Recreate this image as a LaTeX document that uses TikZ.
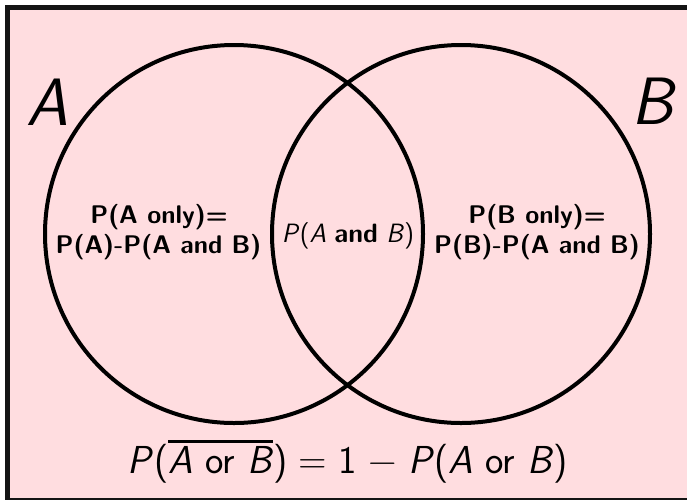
\documentclass[tikz,border=0pt]{standalone}
\usepackage{fontspec}
\definecolor{bgpink}{RGB}{255,221,224}
\definecolor{framegray}{RGB}{20,20,20}
\newcommand\myovl[1]{\vbox{\hrule height 2.6pt\kern 3pt\hbox{#1}}}
\newcommand\opsp{\hspace{0.29em}}
\begin{document}
\begin{tikzpicture}[x=1pt,y=-1pt,
  venn/.style={circle, draw=black, line width=4pt, minimum size=378pt, inner sep=0pt},
  biglbl/.style={font=\sffamily\itshape\fontsize{67}{70}\selectfont, inner sep=0pt, anchor=base},
  boldlbl/.style={font=\sffamily\bfseries\fontsize{25.5}{30}\selectfont, inner sep=0pt, anchor=base},
  midlbl/.style={font=\sffamily\fontsize{26.5}{30}\selectfont, inner sep=0pt, anchor=base},
  formula/.style={font=\sffamily\fontsize{39}{44}\selectfont, inner sep=0pt, anchor=base}]
\useasboundingbox (0,0) rectangle (687,499);
\clip (0,0) rectangle (687,499);
\draw[line width=4.5pt, draw=framegray, fill=bgpink] (7.5,7.5) rectangle (689.5,500.5);
\node[venn] (cA) at (234,234) {};
\node[venn] (cB) at (461,234) {};
\node[biglbl] (labA) at (47,125) {A};
\node[biglbl] (labB) at (652,124) {B};
\node[boldlbl] (aonly1) at (159,223) {P(A only)=};
\node[boldlbl] (aonly2) at (158.5,253) {P(A)-P(A and B)};
\node[midlbl] (ab) at (348,242) {\textit{P}(\textit{A} \textbf{and} \textit{B})};
\node[boldlbl] (bonly1) at (537,223) {P(B only)=};
\node[boldlbl] (bonly2) at (537,253) {P(B)-P(A and B)};
\node[formula] (compl) at (348,473) {\textit{P}(\myovl{\textit{A} or \textit{B}})\opsp=\opsp1\opsp−\opsp\textit{P}(\textit{A} or \textit{B})};
\end{tikzpicture}
\end{document}
